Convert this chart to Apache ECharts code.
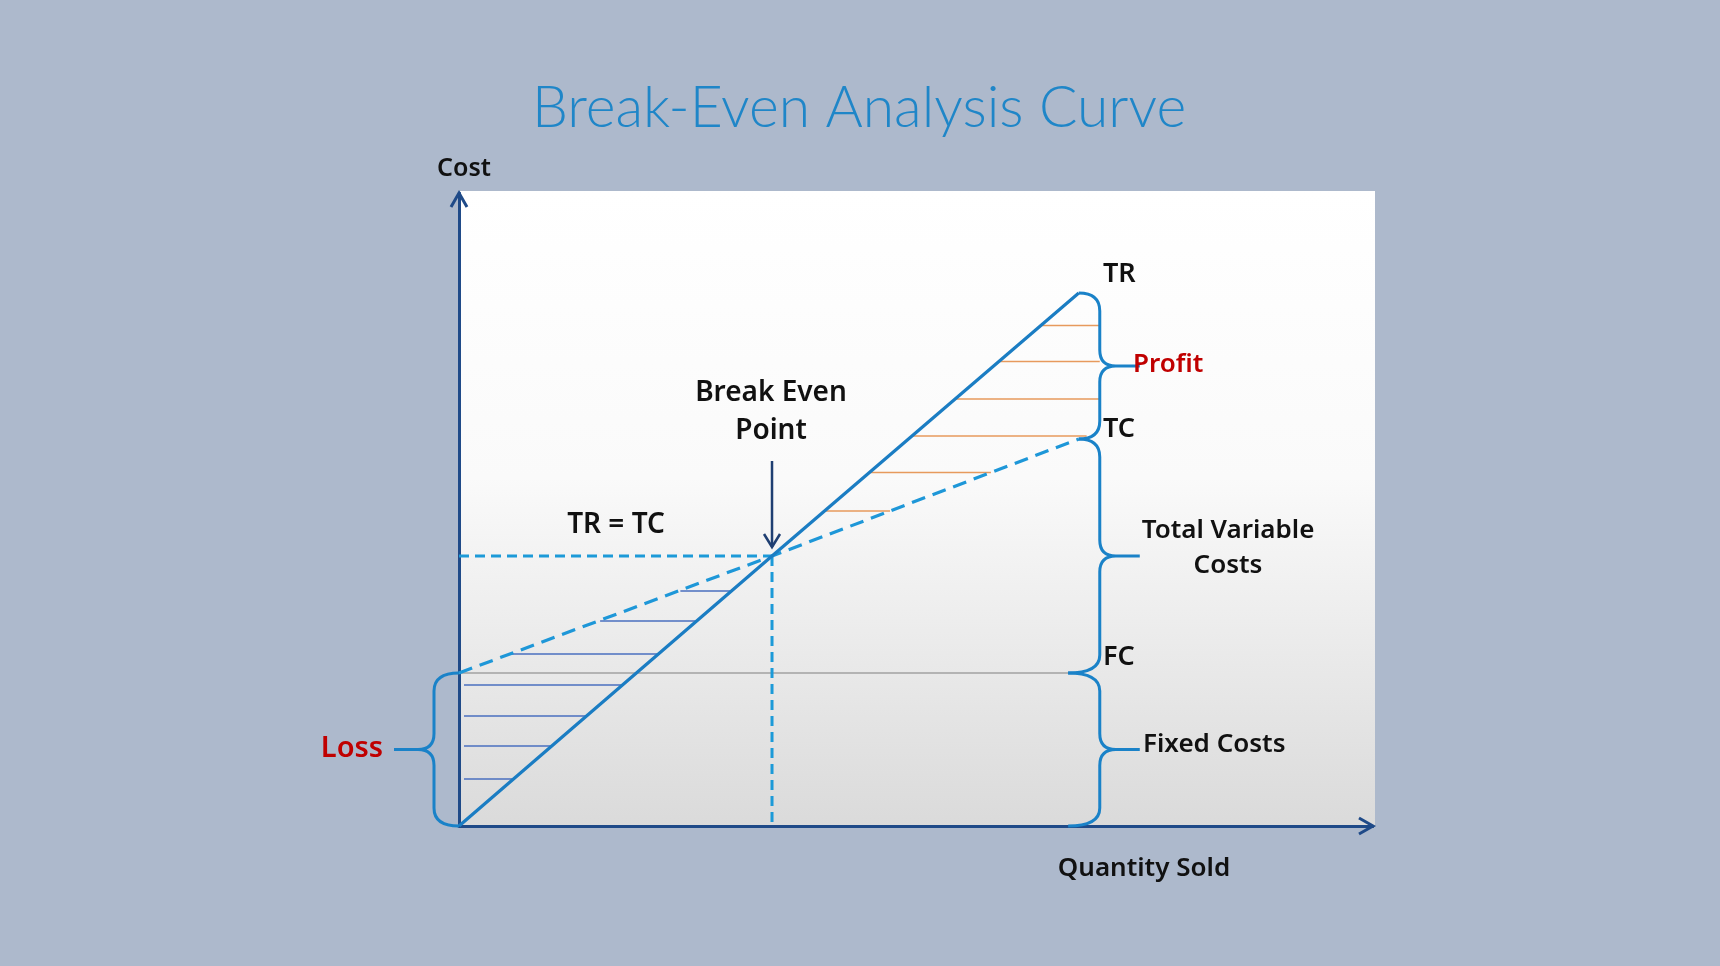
<!DOCTYPE html>
<html><head><meta charset="utf-8">
<script src="https://cdn.jsdelivr.net/npm/echarts@6/dist/echarts.min.js"></script>
<style>html,body{margin:0;padding:0;background:#adb9cc;} #c{width:1720px;height:966px;}</style>
</head><body><div id="c"></div>
<script>
// ---- data ----
const quantity = [0, 50, 99];            // quantity sold sample points
const totalRevenue = [0, 54, 106.6];     // TR
const totalCost = [30.6, 54, 77.4];      // TC
const fixedCostQuantity = [0, 97.3];
const fixedCost = [30.6, 30.6];          // FC
const breakEven = [50, 54];              // TR = TC
const profitHatchLevels = [100.1, 92.9, 85.4, 78, 70.7, 63];
const lossHatchLevels = [47, 41, 34.4, 28.2, 22, 16, 9.4];
const axisMaxX = 146;
const axisMaxY = 126.6;

// ---- helpers ----
function xAtY(xs, ys, y) {
  let i = 0;
  while (i < xs.length - 2 && y > ys[i + 1]) i++;
  const t = (y - ys[i]) / (ys[i + 1] - ys[i]);
  return xs[i] + t * (xs[i + 1] - xs[i]);
}
const pairs = (xs, ys) => xs.map((x, i) => [x, ys[i]]);

const C_TR = '#1b7dc3';
const C_TC = '#1e97d8';
const C_AXIS = '#1f4a88';
const C_BRACE = '#1a82c8';
const BRACE_OFFSET = 21;

const qEnd = quantity[quantity.length - 1];
const trEnd = totalRevenue[totalRevenue.length - 1];
const tcEnd = totalCost[totalCost.length - 1];
const fcEndQ = fixedCostQuantity[fixedCostQuantity.length - 1];
const fc = fixedCost[0];

const braces = [
  { from: [qEnd, trEnd], to: [qEnd, tcEnd], dir: 1 },
  { from: [qEnd, tcEnd], to: [fcEndQ, fc], dir: 1 },
  { from: [fcEndQ, fc], to: [fcEndQ, 0], dir: 1 },
  { from: [0, fc], to: [0, 0], dir: -1 }
];

const chart = echarts.init(document.getElementById('c'), null, { renderer: 'canvas' });

const labelFont = (size, weight) => `${weight || '600'} ${size}px "Noto Sans", "DejaVu Sans", sans-serif`;
function txt(text, x, y, size, color, align, weight) {
  return {
    type: 'text', x: x, y: y, z: 50,
    style: { text: text, font: labelFont(size, weight), fill: color || '#111', align: align || 'center', verticalAlign: 'middle' }
  };
}

const option = {
  backgroundColor: '#adb9cc',
  animation: false,
  grid: { left: 459, top: 193, width: 914, height: 633, show: false },
  xAxis: {
    type: 'value', min: 0, max: axisMaxX,
    axisLine: { show: true, lineStyle: { color: C_AXIS, width: 3 } },
    axisTick: { show: false }, axisLabel: { show: false }, splitLine: { show: false }
  },
  yAxis: {
    type: 'value', min: 0, max: axisMaxY,
    axisLine: { show: true, lineStyle: { color: C_AXIS, width: 3 } },
    axisTick: { show: false }, axisLabel: { show: false }, splitLine: { show: false }
  },
  graphic: [
    {
      type: 'rect', z: -1,
      shape: { x: 458, y: 191, width: 917, height: 637 },
      style: {
        fill: new echarts.graphic.LinearGradient(0, 0, 0, 1, [
          { offset: 0, color: '#ffffff' },
          { offset: 0.45, color: '#fafafa' },
          { offset: 1, color: '#dadada' }
        ])
      }
    },
    {
      type: 'text', x: 859, y: 109, z: 50,
      style: { text: 'Break-Even Analysis Curve', font: '300 57px "Lato", "Noto Sans", sans-serif', fill: '#1f86c8', align: 'center', verticalAlign: 'middle' }
    },
    txt('Cost', 464, 169, 25),
    txt('TR', 1103, 274, 27, '#111', 'left'),
    txt('Profit', 1133, 365, 26, '#c00000', 'left'),
    txt('TC', 1103, 429, 27, '#111', 'left'),
    txt('Break Even', 771, 393, 28),
    txt('Point', 771, 431, 28),
    txt('TR = TC', 616, 525, 28),
    txt('Total Variable', 1228, 531, 26),
    txt('Costs', 1228, 566, 26),
    txt('FC', 1103, 657, 27, '#111', 'left'),
    txt('Fixed Costs', 1143, 745, 26, '#111', 'left'),
    txt('Loss', 352, 749, 29, '#c00000'),
    txt('Quantity Sold', 1144, 869, 26)
  ],
  series: [
    {
      type: 'line', data: pairs(fixedCostQuantity, fixedCost), showSymbol: false, silent: true, z: 2,
      lineStyle: { color: '#b3b3b3', width: 2 }
    },
    {
      type: 'line', data: [[0, breakEven[1]], [breakEven[0], breakEven[1]]], showSymbol: false, silent: true, z: 3,
      lineStyle: { color: '#1c9ad8', width: 3, type: [10, 6] }
    },
    {
      type: 'line', data: [[breakEven[0], breakEven[1]], [breakEven[0], 0]], showSymbol: false, silent: true, z: 3,
      lineStyle: { color: '#1c9ad8', width: 3, type: [10, 6] }
    },
    {
      type: 'custom', z: 3, silent: true,
      data: profitHatchLevels.map(v => [v]),
      renderItem: (params, api) => {
        const y = api.value(0);
        const pR = api.coord([xAtY(quantity, totalRevenue, y), y]);
        const pC = api.coord([xAtY(quantity, totalCost, y), y]);
        const bx = api.coord([qEnd, 0])[0] + BRACE_OFFSET;
        return { type: 'line', shape: { x1: pR[0] + 1, y1: pR[1], x2: Math.min(pC[0], bx), y2: pR[1] }, style: { stroke: '#e79a5d', lineWidth: 1.5 } };
      }
    },
    {
      type: 'custom', z: 3, silent: true,
      data: lossHatchLevels.map(v => [v]),
      renderItem: (params, api) => {
        const y = api.value(0);
        const pR = api.coord([xAtY(quantity, totalRevenue, y), y]);
        const pC = api.coord([xAtY(quantity, totalCost, y), y]);
        const ax = api.coord([0, 0])[0] + 5;
        return { type: 'line', shape: { x1: Math.max(ax, pC[0] + 2), y1: pR[1], x2: pR[0] - 1, y2: pR[1] }, style: { stroke: '#4a6fbf', lineWidth: 1.5 } };
      }
    },
    {
      type: 'line', data: pairs(quantity, totalCost), showSymbol: false, silent: true, z: 4,
      lineStyle: { color: C_TC, width: 3.2, type: [14, 8] }
    },
    {
      type: 'line', data: pairs(quantity, totalRevenue), showSymbol: false, silent: true, z: 5,
      lineStyle: { color: C_TR, width: 3.2 }
    },
    {
      type: 'custom', z: 5, silent: true,
      data: braces.map((b, i) => [i]),
      renderItem: (params, api) => {
        const b = braces[api.value(0)];
        const p0 = api.coord(b.from), p1 = api.coord(b.to);
        const bx = b.dir > 0 ? api.coord([qEnd, 0])[0] + BRACE_OFFSET : api.coord([0, 0])[0] - 25;
        const d = b.dir, r = 18, r2 = 16, w = 40;
        const m = (p0[1] + p1[1]) / 2;
        const path = `M${p0[0]} ${p0[1]} Q${bx} ${p0[1]} ${bx} ${p0[1] + r} L${bx} ${m - r2} Q${bx} ${m} ${bx + d * r2} ${m} L${bx + d * w} ${m} M${bx + d * r2} ${m} Q${bx} ${m} ${bx} ${m + r2} L${bx} ${p1[1] - r} Q${bx} ${p1[1]} ${p1[0]} ${p1[1]}`;
        return { type: 'path', shape: { pathData: path }, style: { fill: 'none', stroke: C_BRACE, lineWidth: 3 } };
      }
    },
    {
      type: 'custom', z: 6, silent: true,
      data: [[0]],
      renderItem: (params, api) => {
        const top = api.coord([0, axisMaxY]);
        const end = api.coord([axisMaxX, 0]);
        const be = api.coord(breakEven);
        const st = { fill: 'none', stroke: C_AXIS, lineWidth: 3 };
        return {
          type: 'group', children: [
            { type: 'polyline', shape: { points: [[top[0] - 8, top[1] + 14], [top[0], top[1]], [top[0] + 8, top[1] + 14]] }, style: st },
            { type: 'polyline', shape: { points: [[end[0] - 14, end[1] - 8], [end[0], end[1]], [end[0] - 14, end[1] + 8]] }, style: st },
            { type: 'line', shape: { x1: be[0], y1: be[1] - 95, x2: be[0], y2: be[1] - 9 }, style: { stroke: '#1f3f72', lineWidth: 2.5 } },
            { type: 'polyline', shape: { points: [[be[0] - 8, be[1] - 22], [be[0], be[1] - 9], [be[0] + 8, be[1] - 22]] }, style: { fill: 'none', stroke: '#1f3f72', lineWidth: 2.5 } }
          ]
        };
      }
    }
  ]
};
chart.setOption(option);
</script>
</body></html>
